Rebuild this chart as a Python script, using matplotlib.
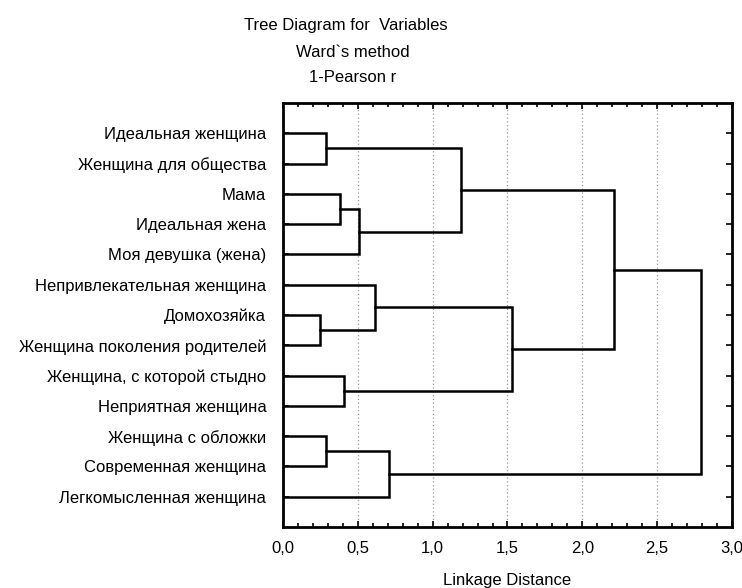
import numpy as np
import matplotlib
matplotlib.use("Agg")
import matplotlib.pyplot as plt
from matplotlib.ticker import MultipleLocator, FuncFormatter

plt.rcParams['font.family'] = ['Liberation Sans', 'DejaVu Sans']

# leaves, top to bottom
labels = [
    "Идеальная женщина",
    "Женщина для общества",
    "Мама",
    "Идеальная жена",
    "Моя девушка (жена)",
    "Непривлекательная женщина",
    "Домохозяйка",
    "Женщина поколения родителей",
    "Женщина, с которой стыдно",
    "Неприятная женщина",
    "Женщина с обложки",
    "Современная женщина",
    "Легкомысленная женщина",
]

# merges: ids 0..12 are leaves, each merge creates id 13, 14, ...
merge_left = [0, 2, 14, 13, 6, 5, 8, 18, 16, 10, 22, 21]
merge_right = [1, 3, 4, 15, 7, 17, 9, 19, 20, 11, 12, 23]
merge_height = [0.285, 0.38, 0.507, 1.192, 0.249, 0.616, 0.409, 1.530, 2.215, 0.287, 0.707, 2.79]

fig = plt.figure(figsize=(7.42, 5.88), dpi=100)
ax = fig.add_axes([0.3814, 0.1037, 0.6051, 0.7211])

# node positions
n = len(labels)
ypos = {i: i + 1 for i in range(n)}
xpos = {i: 0.0 for i in range(n)}
lw = 1.8
for k, (a, b, h) in enumerate(zip(merge_left, merge_right, merge_height)):
    ax.plot([xpos[a], h, h, xpos[b]], [ypos[a], ypos[a], ypos[b], ypos[b]],
            color="black", lw=lw, solid_joinstyle="miter", zorder=3)
    new = n + k
    ypos[new] = (ypos[a] + ypos[b]) / 2
    xpos[new] = h

ax.set_xlim(0, 3.0)
ax.set_ylim(n + 1, 0)

fs = 12
ax.xaxis.set_major_locator(MultipleLocator(0.5))
ax.xaxis.set_minor_locator(MultipleLocator(0.1))
ax.xaxis.set_major_formatter(FuncFormatter(lambda v, p: f"{v:.1f}".replace(".", ",")))
ax.set_yticks(range(1, n + 1))
ax.set_yticklabels(labels)

ax.tick_params(axis="x", which="both", direction="in", top=True, bottom=True,
               labelsize=fs, pad=10)
ax.tick_params(axis="x", which="major", length=4, width=1.2)
ax.tick_params(axis="x", which="minor", length=3, width=1.2)
ax.tick_params(axis="y", which="both", direction="in", left=True, right=True,
               length=4, width=1.2, labelsize=fs, pad=12)

for s in ax.spines.values():
    s.set_linewidth(2)

for g in [0.5, 1.0, 1.5, 2.0, 2.5]:
    ax.axvline(g, color="#999999", lw=0.9, ls=(0, (1, 2)), zorder=1)

ax.set_xlabel("Linkage Distance", fontsize=fs, labelpad=12)

fig.text(0.466, 0.957, "Tree Diagram for  Variables", ha="center", va="center", fontsize=fs)
fig.text(0.475, 0.910, "Ward`s method", ha="center", va="center", fontsize=fs)
fig.text(0.475, 0.869, "1-Pearson r", ha="center", va="center", fontsize=fs)

fig.savefig("out.png", dpi=100, facecolor="white")
